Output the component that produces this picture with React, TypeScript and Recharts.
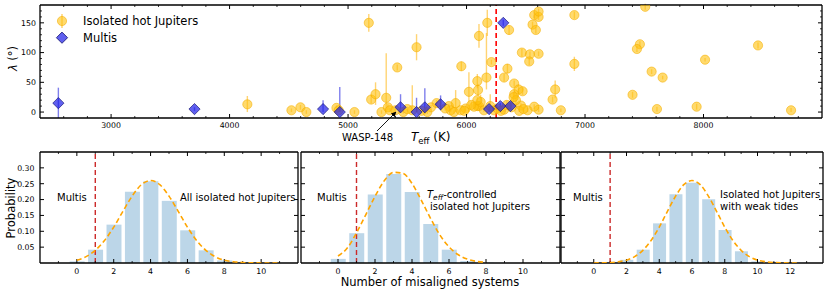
import React from 'react';
import {
  ScatterChart,
  Scatter,
  XAxis,
  YAxis,
  ErrorBar,
  ReferenceLine,
  ComposedChart,
  LineChart,
  Bar,
  Line,
} from 'recharts';

const FONT = '"DejaVu Sans", "Liberation Sans", sans-serif';

// ---------------- Top panel data: [Teff (K), lambda (deg), err low, err high]
const isolatedHotJupiters: [number, number, number, number][] = [
  [4150, 13, 13, 14], [4522, 3, 3, 3], [4598, 8, 4, 4], [4648, 0, 3, 3],
  [4902, 7, 4, 4], [4921, 3, 3, 3], [5054, 0, 3, 3], [5175, 150, 15, 15],
  [5195, 21, 6, 8], [5232, 30, 18, 20], [5322, 24, 24, 75], [5282, 0, 3, 3],
  [5336, 8, 5, 5], [5353, 3, 3, 4], [5415, 75, 5, 5], [5466, 0, 3, 3],
  [5542, 3, 3, 42], [5578, 109, 22, 22], [5669, 0, 3, 3], [5747, 15, 5, 5],
  [5851, 10, 4, 4], [5866, 3, 3, 3], [5908, 15, 15, 22], [5894, 0, 3, 3],
  [5956, 77, 8, 8], [5992, 6, 5, 5], [6020, 34, 34, 33], [6091, 52, 12, 12],
  [6097, 37, 10, 10], [6105, 128, 20, 20], [6091, 10, 6, 6], [6175, 150, 22, 22],
  [6210, 84, 4, 4], [6168, 58, 20, 75], [6345, 73, 8, 8], [6317, 58, 6, 6],
  [6359, 138, 8, 8], [6402, 48, 5, 5], [6402, 30, 6, 6], [6439, 38, 8, 8],
  [6473, 35, 6, 6], [6467, 100, 6, 6], [6535, 97, 5, 5], [6529, 85, 6, 6],
  [6608, 98, 4, 4], [6557, 147, 5, 5], [6585, 138, 6, 6], [6571, 163, 5, 5],
  [6608, 160, 5, 5], [6608, 169, 5, 5], [6910, 163, 6, 6], [6910, 81, 12, 12],
  [6748, 38, 15, 15], [6726, 21, 5, 5], [6796, 3, 3, 3], [6608, 4, 4, 4],
  [6571, 9, 4, 4], [6515, 3, 3, 4], [6459, 11, 4, 4], [6445, 2, 2, 3],
  [6417, 20, 10, 10], [6397, 25, 8, 8], [6105, 10, 8, 8], [6147, 3, 3, 5],
  [6232, 3, 3, 5], [6317, 4, 4, 4], [6063, 9, 4, 4], [6119, 17, 12, 12],
  [6091, 20, 5, 5], [7508, 177, 5, 5], [7463, 114, 5, 5], [7438, 106, 5, 5],
  [7401, 29, 5, 5], [7562, 68, 4, 4], [7655, 58, 3, 3], [7607, 5, 4, 4],
  [8013, 88, 3, 3], [7942, 9, 5, 5], [8460, 112, 5, 5], [8739, 3, 3, 4],
  [5400, 3, 3, 3], [5500, 5, 4, 4], [5620, 2, 2, 3], [5700, 8, 4, 4],
  [5950, 3, 3, 3], [6200, 10, 6, 20], [6260, 6, 5, 5], [6290, 2, 2, 4],
  [6340, 12, 6, 6], [6380, 8, 5, 5], [6480, 5, 4, 4], [6040, 12, 6, 6],
  [5980, 2, 2, 3], [5820, 6, 4, 4],
];

const multis: [number, number, number, number][] = [
  [2555, 15, 25, 26], [3704, 5, 3, 3], [4789, 5, 5, 15], [4930, 0, 0, 42],
  [5443, 8, 8, 22], [5578, 0, 0, 24], [5648, 8, 8, 32], [5781, 13, 10, 15],
  [6190, 5, 5, 5], [6285, 10, 5, 5], [6370, 10, 6, 6], [6310, 150, 5, 5],
];

const teffCut = 6250;
const topXMajor = [3000, 4000, 5000, 6000, 7000, 8000];
const topYMajor = [0, 50, 100, 150];

// ---------------- Bottom panels data
const countsA = [0, 1, 2, 3, 4, 5, 6, 7, 8, 9, 10];
const probAllIsolated = [0.005, 0.042, 0.121, 0.225, 0.258, 0.196, 0.103, 0.04, 0.008, 0.002, 0.001];
const probTeffControlled = [0.013, 0.094, 0.216, 0.281, 0.224, 0.123, 0.042, 0.006, 0.001, 0, 0];
const countsC = [0, 1, 2, 3, 4, 5, 6, 7, 8, 9, 10, 11, 12];
const probWeakTides = [0, 0.001, 0.01, 0.042, 0.125, 0.217, 0.253, 0.201, 0.104, 0.037, 0.005, 0.001, 0];

const curveX = [0, 0.5, 1, 1.5, 2, 2.5, 3, 3.5, 4, 4.5, 5, 5.5, 6, 6.5, 7, 7.5, 8, 8.5, 9, 9.5, 10, 10.5, 11, 11.5, 12, 12.5];
const curveAll = [0.009, 0.02, 0.04, 0.071, 0.113, 0.163, 0.211, 0.247, 0.26, 0.247, 0.211, 0.163, 0.113, 0.071, 0.04, 0.02, 0.009, 0.004, 0.0014, 0.0005, 0.0001, 0, 0, null, null, null];
const curveTeff = [0.022, 0.047, 0.095, 0.152, 0.21, 0.259, 0.286, 0.283, 0.251, 0.198, 0.141, 0.089, 0.051, 0.026, 0.012, 0.005, 0.002, null, null, null, null, null, null, null, null, null];
const curveWeak = [0.0001, 0.0005, 0.0014, 0.004, 0.009, 0.02, 0.04, 0.071, 0.113, 0.163, 0.211, 0.247, 0.26, 0.247, 0.211, 0.163, 0.113, 0.071, 0.04, 0.02, 0.009, 0.004, 0.0014, 0.0005, 0.0001, 0];

const bottomXMajorAB = [0, 2, 4, 6, 8, 10];
const bottomXMajorC = [0, 2, 4, 6, 8, 10, 12];
const bottomYMajor = [0.05, 0.1, 0.15, 0.2, 0.25, 0.3];
const multisObserved = 1;

// ---------------- helpers
const range = (a: number, b: number, s: number) => {
  const out: number[] = [];
  for (let v = a; v <= b + 1e-9; v += s) out.push(Math.round(v * 1000) / 1000);
  return out;
};

type Side = 'bottom' | 'top' | 'left' | 'right';
const makeTick =
  (side: Side, majors: number[], fmt: ((v: number) => string) | null, offset: number, fs = 7.5) =>
  (props: any) => {
    const { x, y, payload } = props;
    const v = Number(payload.value);
    const major = majors.some((m) => Math.abs(m - v) < 1e-6);
    const len = major ? 4 : 2;
    let x2 = x;
    let y2 = y;
    if (side === 'bottom') y2 = y - len;
    if (side === 'top') y2 = y + len;
    if (side === 'left') x2 = x + len;
    if (side === 'right') x2 = x - len;
    let label: any = null;
    if (fmt && major) {
      if (side === 'bottom')
        label = (
          <text x={x} y={y + offset} textAnchor="middle" fontSize={fs} fontFamily={FONT} fill="#000">
            {fmt(v)}
          </text>
        );
      if (side === 'left')
        label = (
          <text x={x - offset} y={y + fs * 0.36} textAnchor="end" fontSize={fs} fontFamily={FONT} fill="#000">
            {fmt(v)}
          </text>
        );
    }
    return (
      <g>
        <line x1={x} y1={y} x2={x2} y2={y2} stroke="#000" strokeWidth={major ? 1 : 0.8} />
        {label}
      </g>
    );
  };

const axisLine = { stroke: '#000', strokeWidth: 1.3 };

const OrangeDot = (p: any) => (
  <circle cx={p.cx} cy={p.cy} r={4.6} fill="#ffc20e" fillOpacity={0.6} stroke="#f5ae00" strokeOpacity={0.7} strokeWidth={0.8} />
);
const BlueDiamond = (p: any) => {
  const s = 5.6;
  return (
    <polygon
      points={`${p.cx},${p.cy - s} ${p.cx + s},${p.cy} ${p.cx},${p.cy + s} ${p.cx - s},${p.cy}`}
      fill="#1c1ce8"
      fillOpacity={0.7}
      stroke="#10106e"
      strokeOpacity={0.8}
      strokeWidth={0.8}
    />
  );
};

const hjData = isolatedHotJupiters.map(([x, y, lo, hi]) => ({ x, y, err: [lo, hi] }));
const multiData = multis.map(([x, y, lo, hi]) => ({ x, y, err: [lo, hi] }));

const commonAxis = {
  type: 'number' as const,
  allowDataOverflow: true,
  interval: 0 as const,
  tickSize: 0,
  tickMargin: 0,
  tickLine: false,
  axisLine,
};

function TopPanel() {
  const xTicks = range(2600, 8800, 200);
  const yTicks = range(0, 170, 10);
  return (
    <div style={{ position: 'absolute', left: 0, top: 0 }}>
      <ScatterChart width={830} height={150} margin={{ top: 4, right: 7, bottom: 31, left: 39 }}>
        <XAxis
          {...commonAxis}
          xAxisId={0}
          dataKey="x"
          domain={[2400, 9000]}
          ticks={xTicks}
          height={1}
          tick={makeTick('bottom', topXMajor, (v) => String(v), 9.5, 7.8)}
        />
        <XAxis
          {...commonAxis}
          xAxisId="top"
          orientation="top"
          dataKey="x"
          domain={[2400, 9000]}
          ticks={xTicks}
          height={1}
          tick={makeTick('top', topXMajor, null, 0)}
        />
        <YAxis
          {...commonAxis}
          yAxisId={0}
          dataKey="y"
          domain={[-10, 180]}
          ticks={yTicks}
          width={1}
          tick={makeTick('left', topYMajor, (v) => String(v), 4, 7.8)}
        />
        <YAxis
          {...commonAxis}
          yAxisId="right"
          orientation="right"
          dataKey="y"
          domain={[-10, 180]}
          ticks={yTicks}
          width={1}
          tick={makeTick('right', topYMajor, null, 0)}
        />
        <Scatter data={hjData} xAxisId={0} yAxisId={0} shape={OrangeDot} isAnimationActive={false}>
          <ErrorBar dataKey="err" direction="y" width={0} stroke="#ffb000" strokeOpacity={0.55} strokeWidth={1.4} />
        </Scatter>
        <ReferenceLine xAxisId={0} yAxisId={0} x={teffCut} stroke="#ff0000" strokeWidth={1.6} strokeDasharray="5 3" />
        <Scatter data={multiData} xAxisId={0} yAxisId={0} shape={BlueDiamond} isAnimationActive={false}>
          <ErrorBar dataKey="err" direction="y" width={0} stroke="#2a2ae0" strokeOpacity={0.6} strokeWidth={1.4} />
        </Scatter>
      </ScatterChart>
    </div>
  );
}

type PanelProps = {
  left: number;
  width: number;
  marginLeft: number;
  marginRight: number;
  counts: number[];
  probs: number[];
  curve: (number | null)[];
  xMax: number;
  xMajor: number[];
  barSize: number;
  showYLabels: boolean;
};

function BottomPanel(p: PanelProps) {
  const barData = p.counts.map((c, i) => ({ x: c, p: p.probs[i] }));
  const curveData = curveX.map((x, i) => ({ x, p: p.curve[i] }));
  const xTicks = range(-1, p.xMax - 1, 1);
  return (
    <>
      <div style={{ position: 'absolute', left: p.left, top: 145 }}>
        <ComposedChart
          width={p.width}
          height={150}
          data={barData}
          margin={{ top: 6, right: p.marginRight, bottom: 31, left: p.marginLeft }}
        >
          <XAxis
            {...commonAxis}
            xAxisId={0}
            dataKey="x"
            domain={[-2, p.xMax]}
            ticks={xTicks}
            height={1}
            tick={makeTick('bottom', p.xMajor, (v) => String(v), 11.3, 7.8)}
          />
          <XAxis
            {...commonAxis}
            xAxisId="top"
            orientation="top"
            dataKey="x"
            domain={[-2, p.xMax]}
            ticks={xTicks}
            height={1}
            tick={makeTick('top', p.xMajor, null, 0)}
          />
          <YAxis
            {...commonAxis}
            yAxisId={0}
            domain={[0, 0.35]}
            ticks={bottomYMajor}
            width={1}
            tick={makeTick('left', bottomYMajor, p.showYLabels ? (v) => v.toFixed(2) : null, 5.5, 7.8)}
          />
          <YAxis
            {...commonAxis}
            yAxisId="right"
            orientation="right"
            domain={[0, 0.35]}
            ticks={bottomYMajor}
            width={1}
            tick={makeTick('right', bottomYMajor, null, 0)}
          />
          <Bar xAxisId={0} yAxisId={0} dataKey="p" barSize={p.barSize} fill="#bcd6e8" isAnimationActive={false} />
          <ReferenceLine xAxisId={0} yAxisId={0} x={multisObserved} stroke="#cc2a2a" strokeWidth={1.4} strokeDasharray="5 3" />
        </ComposedChart>
      </div>
      <div style={{ position: 'absolute', left: p.left, top: 145 }}>
        <LineChart
          width={p.width}
          height={150}
          data={curveData}
          margin={{ top: 7, right: p.marginRight + 1, bottom: 32, left: p.marginLeft + 1 }}
        >
          <XAxis hide type="number" dataKey="x" domain={[-2, p.xMax]} allowDataOverflow />
          <YAxis hide type="number" domain={[0, 0.35]} allowDataOverflow />
          <Line
            dataKey="p"
            type="monotone"
            stroke="#ffa500"
            strokeWidth={1.6}
            strokeDasharray="5 3"
            dot={false}
            activeDot={false}
            isAnimationActive={false}
          />
        </LineChart>
      </div>
    </>
  );
}

function Overlay() {
  const t = { fontFamily: FONT, fill: '#000' } as const;
  return (
    <svg width={830} height={295} style={{ position: 'absolute', left: 0, top: 0, pointerEvents: 'none' }}>
      <defs>
        <marker id="arrowHead" viewBox="0 0 10 10" refX="9" refY="5" markerWidth="6" markerHeight="6" orient="auto">
          <path d="M0,0 L10,5 L0,10 z" fill="#000" />
        </marker>
      </defs>
      {/* top legend */}
      <line x1={62} y1={14} x2={62} y2={28} stroke="#ffb000" strokeOpacity={0.6} strokeWidth={1.4} />
      <circle cx={62} cy={21} r={4.6} fill="#ffc20e" fillOpacity={0.6} stroke="#f5ae00" strokeOpacity={0.7} strokeWidth={0.8} />
      <text x={83} y={25} fontSize={11.5} {...t}>Isolated hot Jupiters</text>
      <polygon points="62,32.1 67.6,37.7 62,43.3 56.4,37.7" fill="#1c1ce8" fillOpacity={0.7} stroke="#10106e" strokeWidth={0.8} />
      <text x={83} y={41.7} fontSize={11.5} {...t}>Multis</text>
      {/* top axis labels */}
      <text transform="translate(17,58.5) rotate(-90)" textAnchor="middle" fontSize={11.5} {...t}>
        <tspan fontStyle="italic">λ</tspan> (°)
      </text>
      <text x={411} y={141} fontSize={12} {...t}>
        <tspan fontStyle="italic">T</tspan>
        <tspan fontSize={8.5} dy={2.5}>eff</tspan>
        <tspan dy={-2.5}> (K)</tspan>
      </text>
      {/* WASP-148 annotation */}
      <line x1={377} y1={131} x2={396} y2={112} stroke="#000" strokeWidth={0.9} markerEnd="url(#arrowHead)" />
      <text x={342} y={141} fontSize={10} {...t}>WASP-148</text>
      {/* bottom labels */}
      <text transform="translate(15,208) rotate(-90)" textAnchor="middle" fontSize={11.5} {...t}>Probability</text>
      <text x={430} y={286} textAnchor="middle" fontSize={11.5} {...t}>Number of misaligned systems</text>
      <text x={57} y={200.5} fontSize={10} {...t}>Multis</text>
      <text x={180} y={200.5} fontSize={10} {...t}>All isolated hot Jupiters</text>
      <text x={317} y={200.5} fontSize={10} {...t}>Multis</text>
      <text x={427} y={197.5} fontSize={10} {...t}>
        <tspan fontStyle="italic">T</tspan>
        <tspan fontSize={7.5} dy={2} fontStyle="italic">eff</tspan>
        <tspan dy={-2}>-controlled</tspan>
      </text>
      <text x={430} y={209.5} fontSize={10} {...t}>isolated hot Jupiters</text>
      <text x={573} y={200.5} fontSize={10} {...t}>Multis</text>
      <text x={720} y={197.5} fontSize={10} {...t}>Isolated hot Jupiters</text>
      <text x={720} y={209.5} fontSize={10} {...t}>with weak tides</text>
    </svg>
  );
}

export default function App() {
  return (
    <div style={{ position: 'absolute', left: 0, top: 0, width: 830, height: 295, background: '#fff' }}>
      <TopPanel />
      <BottomPanel
        left={0}
        width={300}
        marginLeft={39}
        marginRight={1}
        counts={countsA}
        probs={probAllIsolated}
        curve={curveAll}
        xMax={12}
        xMajor={bottomXMajorAB}
        barSize={15}
        showYLabels={true}
      />
      <BottomPanel
        left={300}
        width={262}
        marginLeft={0}
        marginRight={1}
        counts={countsA}
        probs={probTeffControlled}
        curve={curveTeff}
        xMax={12}
        xMajor={bottomXMajorAB}
        barSize={15}
        showYLabels={false}
      />
      <BottomPanel
        left={560}
        width={270}
        marginLeft={0}
        marginRight={6}
        counts={countsC}
        probs={probWeakTides}
        curve={curveWeak}
        xMax={14}
        xMajor={bottomXMajorC}
        barSize={13}
        showYLabels={false}
      />
      <Overlay />
    </div>
  );
}
